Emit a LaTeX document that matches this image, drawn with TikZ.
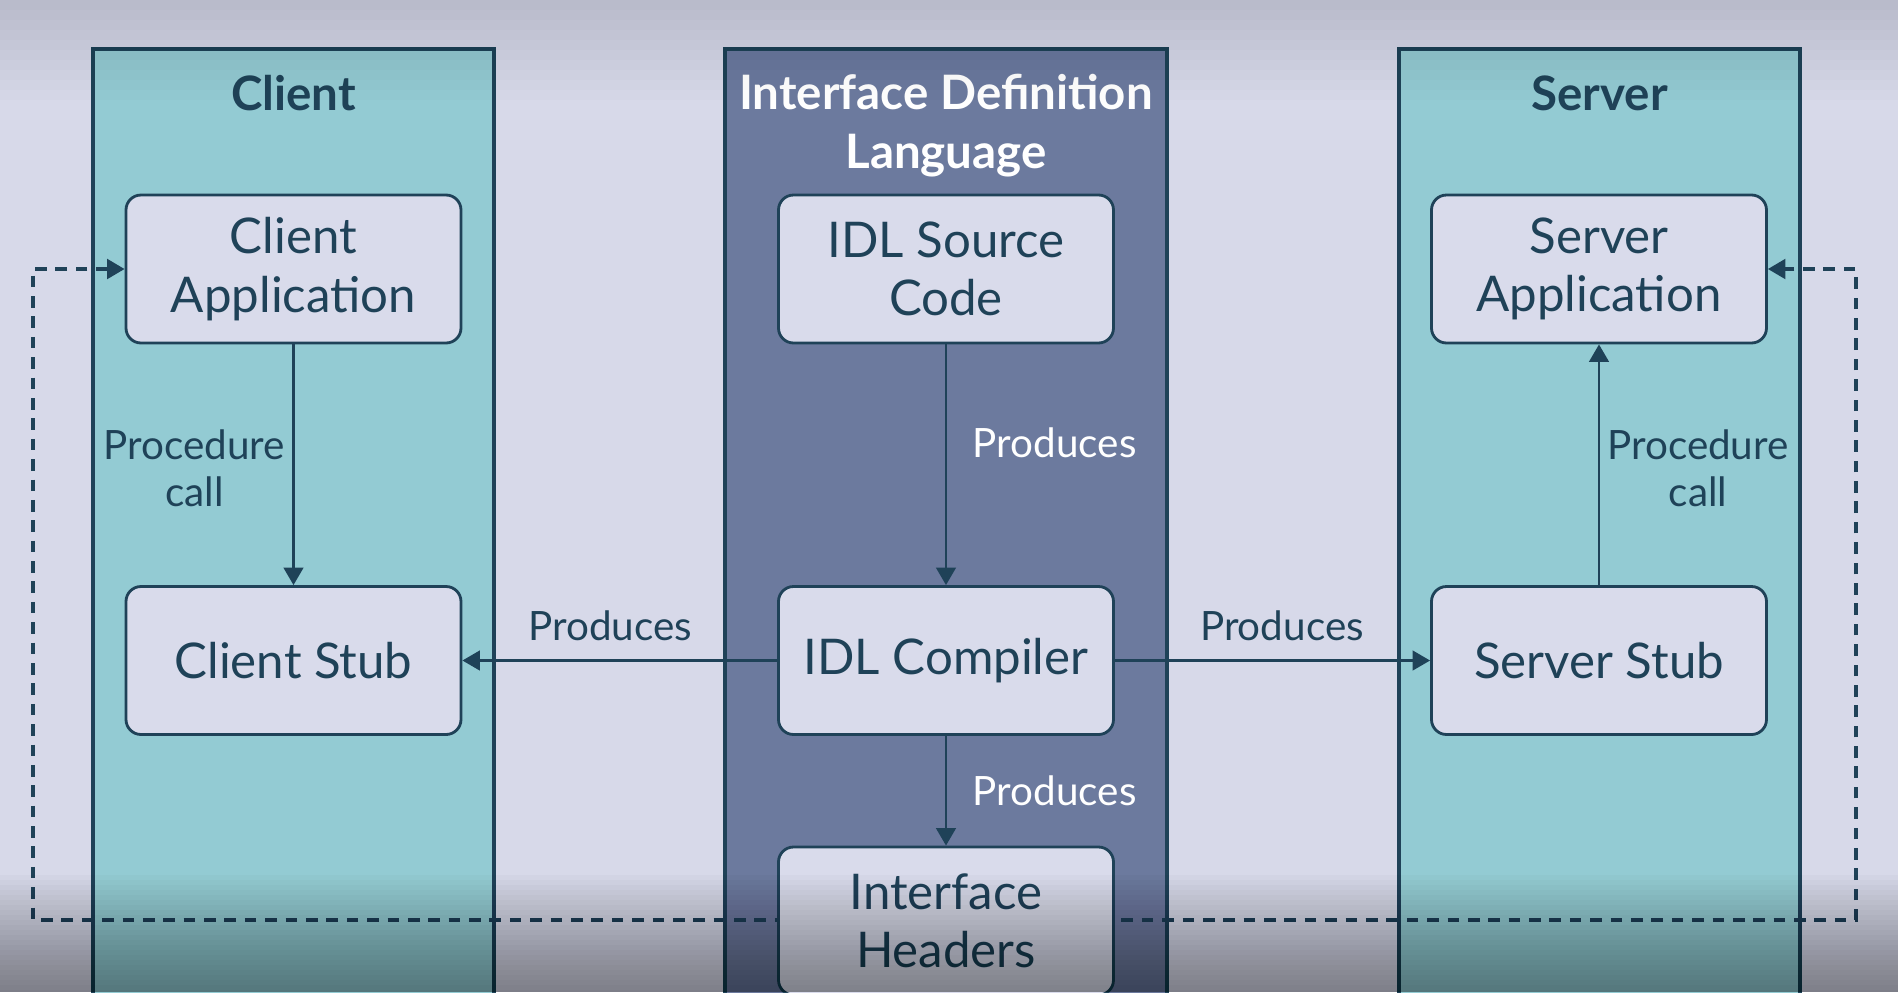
\documentclass[tikz,border=0pt]{standalone}
\usepackage{fontspec}
\setmainfont{Lato}
\usepackage{tikz}
\usepackage{xcolor}
\usetikzlibrary{arrows.meta,positioning,backgrounds}
\definecolor{slide}     {HTML}{D7D9E9}
\definecolor{clientteal}{HTML}{93CBD3}
\definecolor{idlslate}  {HTML}{6C7A9E}
\definecolor{boxfill}   {HTML}{D9DBEB}
\definecolor{ink}       {HTML}{1F4258}
\pgfdeclarelayer{bottom}
\pgfsetlayers{bottom,background,main}
\tikzset{
  colbox/.style   ={draw=ink, line width=1pt, anchor=north,
                    minimum width=4.01cm, minimum height=10cm, inner sep=0pt},
  coltitle/.style ={font=\fontsize{13.5}{16.6}\selectfont\bfseries,
                    text=ink, align=center},
  appbox/.style   ={draw=ink, fill=boxfill, line width=0.8pt, rounded corners=0.15cm,
                    minimum width=3.35cm, minimum height=1.48cm, inner sep=2pt,
                    align=center, font=\fontsize{14}{16.6}\selectfont, text=ink},
  flowarr/.style  ={-{Triangle[length=5pt,width=5.6pt]}, line width=0.75pt, draw=ink},
  loopline/.style ={{Triangle[length=5pt,width=5.6pt]}-{Triangle[length=5pt,width=5.6pt]},
                    line width=0.95pt, draw=ink, dash pattern=on 3.3pt off 2.5pt},
  lbl/.style      ={font=\fontsize{11.5}{13.4}\selectfont, text=ink,
                    align=center, inner sep=1pt},
  wlbl/.style     ={lbl, text=white},
}

\begin{document}
\begin{tikzpicture}[x=1cm,y=1cm]
    \useasboundingbox (0,0) rectangle (18.98,-9.92);

    % ----- slide and the three columns -----
    \begin{pgfonlayer}{bottom}
      \fill[slide] (0,0) rectangle (18.98,-9.92);
      \node[colbox,fill=clientteal] (clientcol) at (2.935,-0.47) {};
      \node[colbox,fill=idlslate,minimum width=4.42cm] (idlcol) at (9.46,-0.47) {};
      \node[colbox,fill=clientteal] (servercol) at (15.995,-0.47) {};
    \end{pgfonlayer}

    \node[coltitle] (clientttl) at (2.935,-0.93) {Client};
    \node[coltitle,text=white] (idlttl) at (9.46,-1.255) {Interface Definition\\Language};
    \node[coltitle] (serverttl) at (15.995,-0.93) {Server};

    % ----- boxes -----
    \node[appbox] (capp)    at (2.935,-2.69)  {Client\\Application};
    \node[appbox] (cstub)   at (2.935,-6.605) {Client Stub};
    \node[appbox] (idlsrc)  at (9.46,-2.69)   {IDL Source\\Code};
    \node[appbox] (idlcomp) at (9.46,-6.605)  {IDL Compiler};
    \node[appbox] (ifhdr)   at (9.46,-9.21)   {Interface\\Headers};
    \node[appbox] (sapp)    at (15.99,-2.69)  {Server\\Application};
    \node[appbox] (sstub)   at (15.99,-6.605) {Server Stub};

    % ----- arrows -----
    \draw[flowarr] (capp) -- (cstub) node[lbl,pos=0.515,left=1pt] {Procedure\\call};
    \draw[flowarr] (sstub) -- (sapp) node[lbl,pos=0.485,right=1pt] {Procedure\\call};
    \draw[flowarr] (idlsrc) -- (idlcomp) node[wlbl,pos=0.41,right=0.22cm] {Produces};
    \draw[flowarr] (idlcomp) -- (ifhdr) node[wlbl,midway,right=0.22cm] {Produces};
    \draw[flowarr] (idlcomp) -- (cstub) node[lbl,pos=0.53,above=0.15cm] {Produces};
    \draw[flowarr] (idlcomp) -- (sstub) node[lbl,pos=0.53,above=0.15cm] {Produces};

    % ----- dashed loop round the whole thing -----
    \coordinate (loopsw) at (0.33,-9.20);
    \coordinate (loopse) at (18.56,-9.20);
    \begin{pgfonlayer}{background}
      \draw[loopline] (capp.west) -| (loopsw) -- (loopse) |- (sapp.east);
    \end{pgfonlayer}

    % ----- darker edges of the slide -----
    \foreach \i in {0,...,9}
      \fill[black,opacity=0.012] (0,0) rectangle (18.98,-0.1-\i*0.1);
    \foreach \i in {0,...,23}
      \fill[black,opacity=0.02] (0,-8.75-\i*0.05) rectangle (18.98,-9.92);
\end{tikzpicture}
\end{document}
